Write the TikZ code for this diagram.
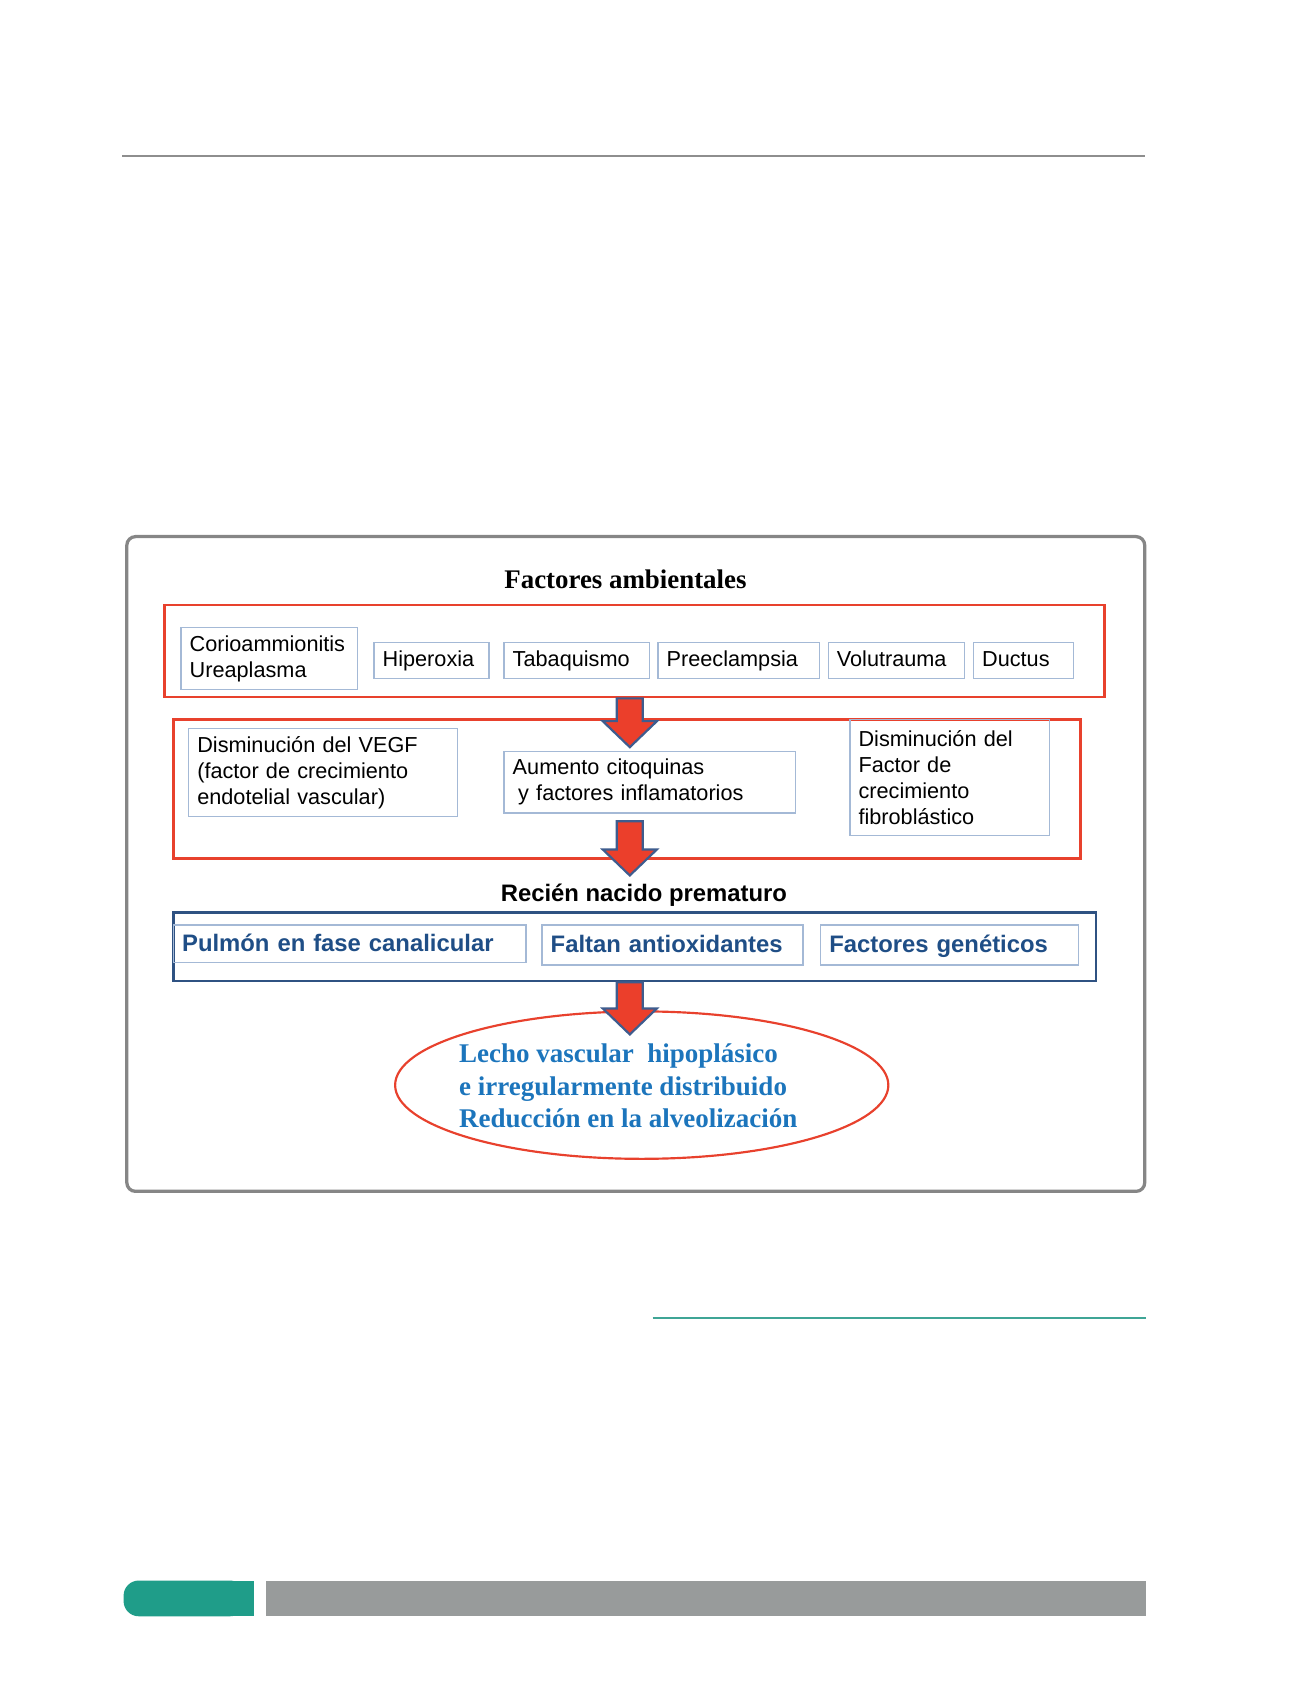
\documentclass[tikz,border=0pt]{standalone}
\usepackage{fontspec}
\setmainfont{Liberation Serif}
\setsansfont{Liberation Sans}
\usetikzlibrary{shapes.geometric,calc}
\definecolor{framered}{HTML}{E8412D}
\definecolor{arrowred}{HTML}{EB3F2B}
\definecolor{arrowedge}{HTML}{3E5C8E}
\definecolor{paleblue}{HTML}{A4B9D6}
\definecolor{navyframe}{HTML}{2F5282}
\definecolor{rowblue}{HTML}{1F4E86}
\definecolor{outcomeblue}{HTML}{1C75BC}
\definecolor{pagegrey}{HTML}{8E8E8E}
\definecolor{boxgrey}{HTML}{868686}
\definecolor{pageteal}{HTML}{3FA596}
\definecolor{footteal}{HTML}{1F9D89}
\definecolor{footgrey}{HTML}{989B9B}
\tikzset{
  redframe/.style={draw=framered, line width=1.25pt, inner sep=0pt},
  navybox/.style={draw=navyframe, line width=1.25pt, inner sep=0pt},
  factorbox/.style={draw=paleblue, line width=0.6pt, align=left, inner xsep=4pt, inner ysep=0pt, font=\sffamily\fontsize{10}{12}\selectfont},
  onelinebox/.style={factorbox, text height=7.3pt, text depth=2.1pt},
  boldbox/.style={draw=paleblue, line width=0.8pt, align=left, inner xsep=4pt, inner ysep=0pt, text height=9pt, text depth=1.8pt, text=rowblue, font=\sffamily\bfseries\fontsize{11}{13}\selectfont},
  fatarrow/.style={fill=arrowred, draw=arrowedge, line width=1pt, line join=miter}
}
\newcommand{\bigarrow}[2]{\draw[fatarrow] (#1) ++(-12,0) -- ++(0,#2) -- ++(-13,0) -- ++(25,24) -- ++(25,-24) -- ++(-13,0) -- ++(0,-#2) -- cycle;}
\begin{document}
\begin{tikzpicture}[x=0.5pt, y=-0.5pt]
\useasboundingbox (0,0) rectangle (1200,1571);
\draw[pagegrey, line width=1pt] (113,144) -- (1056,144);
\draw[boxgrey, line width=1.5pt, rounded corners=4pt] (117,495) rectangle (1056,1099);
\node[font=\bfseries\fontsize{12.4}{14}\selectfont] (title) at (577,534) {Factores ambientales};
\node[redframe, minimum width=433.5pt, minimum height=42.5pt] (envbox) at (585.5,600.5) {};
\node[factorbox, text width=73.5pt, minimum height=28.5pt] (corio) at (248.5,607.5) {Corioammionitis\\Ureaplasma};
\node[onelinebox, text width=45pt, minimum height=16.5pt] (hiper) at (398,609.5) {Hiperoxia};
\node[onelinebox, text width=59pt, minimum height=16.5pt] (tabaco) at (532,609.5) {Tabaquismo};
\node[onelinebox, text width=66.5pt, minimum height=16.5pt] (preec) at (681.5,609.5) {Preeclampsia};
\node[onelinebox, text width=55pt, minimum height=16.5pt] (volut) at (827,609.5) {Volutrauma};
\node[onelinebox, text width=38pt, minimum height=16.5pt] (ductus) at (944,609.5) {Ductus};
\node[redframe, minimum width=418.5pt, minimum height=64pt] (mechbox) at (578.5,728) {};
\node[factorbox, text width=116pt, minimum height=40.5pt] (vegf) at (298,712.5) {Disminución del VEGF\\(factor de crecimiento\\endotelial vascular)};
\node[factorbox, text width=126.5pt, minimum height=28.5pt] (citoq) at (599.5,721.5) {Aumento citoquinas\\\hspace*{2.5pt}y factores inflamatorios};
\node[factorbox, text width=84pt, minimum height=53.5pt] (fgf) at (876,717.5) {Disminución del\\Factor de\\crecimiento\\fibroblástico};
\node[font=\sffamily\bfseries\fontsize{11}{13}\selectfont] (rnptitle) at (594,826) {Recién nacido prematuro};
\node[navybox, minimum width=425.5pt, minimum height=31.5pt] (rnpbox) at (585.5,873.5) {};
\node[boldbox, text width=154.5pt, minimum height=17.5pt] (pulmon) at (322.5,870.5) {Pulmón en fase canalicular};
\node[boldbox, text width=112.5pt, minimum height=18.5pt] (antiox) at (620.5,871.5) {Faltan antioxidantes};
\node[boldbox, text width=111pt, minimum height=18.5pt] (genet) at (876,871.5) {Factores genéticos};
\node[ellipse, draw=framered, line width=1pt, inner sep=0pt, minimum width=227.5pt, minimum height=68pt] (outcome) at (592,1001) {};
\node[align=left, text=outcomeblue, font=\bfseries\fontsize{12.45}{15}\selectfont] (outtext) at (579.5,1002) {Lecho vascular\ \ hipoplásico\\e irregularmente distribuido\\Reducción en la alveolización};
\bigarrow{$(envbox.south)+(-4.5,0)$}{21}
\bigarrow{$(citoq.south)+(-18.5,7)$}{26}
\bigarrow{$(rnpbox.south)+(-4.5,0)$}{24}
\draw[pageteal, line width=1pt] (602,1216) -- (1057,1216);
\fill[footteal, rounded corners=7pt] (114,1458) rectangle (226,1491);
\fill[footteal] (200,1458) rectangle (234,1491);
\fill[footgrey] (245,1458) rectangle (1057,1491);
\end{tikzpicture}
\end{document}
